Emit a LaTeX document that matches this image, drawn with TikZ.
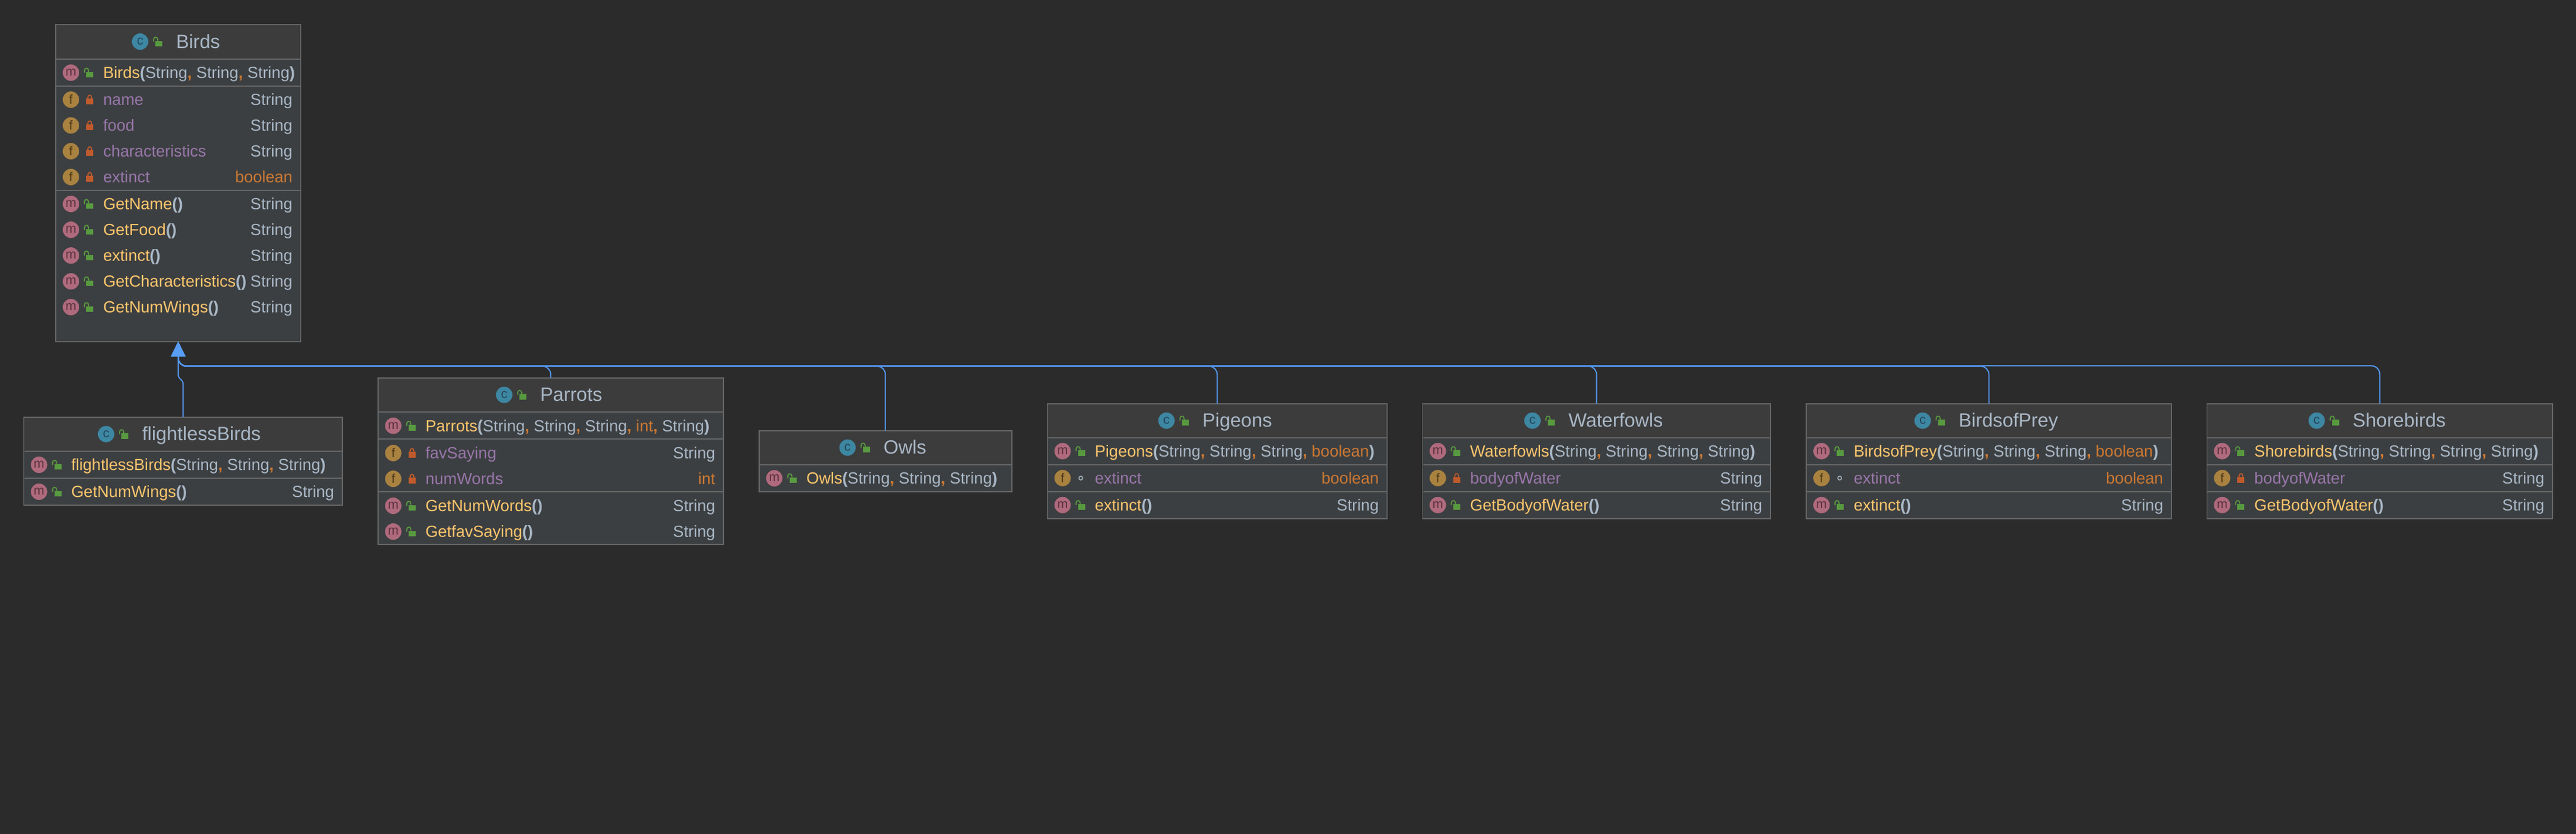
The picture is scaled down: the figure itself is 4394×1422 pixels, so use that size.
\documentclass[tikz,border=0pt]{standalone}
\usepackage{fontspec}
\setmainfont{Liberation Sans}
\usetikzlibrary{arrows.meta}
\definecolor{bgdark}{HTML}{2B2B2B}
\definecolor{hdrfill}{HTML}{3C3C3C}
\definecolor{bodyfill}{HTML}{3C3F41}
\definecolor{edgegrey}{HTML}{666666}
\definecolor{mname}{HTML}{FFC66D}
\definecolor{ptxt}{HTML}{A9B7C6}
\definecolor{kw}{HTML}{CC7832}
\definecolor{fld}{HTML}{9876AA}
\definecolor{icm}{HTML}{B06A7D}
\definecolor{icmd}{HTML}{5A3340}
\definecolor{icf}{HTML}{A98240}
\definecolor{icfd}{HTML}{4F3A1A}
\definecolor{icc}{HTML}{3D87A3}
\definecolor{iccd}{HTML}{24465A}
\definecolor{lockg}{HTML}{589A3F}
\definecolor{lockr}{HTML}{C05A2C}
\definecolor{ringc}{HTML}{9AA7B0}
\definecolor{linkb}{HTML}{5394EC}
\definecolor{tipb}{HTML}{589DF6}
\newcounter{nid}
\tikzset{
  autoname/.code={\stepcounter{nid}\tikzset{name=n\arabic{nid}}},
  every node/.style={autoname},
  umlframe/.style={draw=edgegrey,line width=1.7pt,fill=bodyfill,rectangle,inner sep=0pt,outer sep=0pt},
  divline/.style={draw=edgegrey,line width=1.7pt},
  rowtxt/.style={inner sep=0pt,outer sep=0pt,font=\fontsize{27.5}{30}\selectfont},
  rowleft/.style={rowtxt,anchor=base west},
  rowright/.style={rowtxt,anchor=base east},
  hdrtxt/.style={inner sep=0pt,outer sep=0pt,anchor=base west,text=ptxt,font=\fontsize{32.8}{36}\selectfont},
  badge/.style={circle,inner sep=0pt,outer sep=0pt,minimum size=28pt,font=\fontsize{22}{22}\selectfont},
  badgem/.style={badge,fill=icm,text=icmd},
  badgef/.style={badge,fill=icf,text=icfd},
  badgec/.style={badge,fill=icc,text=iccd},
  conn/.style={draw=linkb,line width=2pt,rounded corners=14pt,-{Triangle[length=25pt,width=24pt,color=tipb]}},
}
\newcommand\mn[1]{\textcolor{mname}{#1}}
\newcommand\fn[1]{\textcolor{fld}{#1}}
\newcommand\sgS{\textcolor{ptxt}{String}}
\newcommand\sgK[1]{\textcolor{kw}{#1}}
\newcommand\sgC{\textcolor{kw}{\textbf{,}}\ }
\newcommand\sgO{\textcolor{ptxt}{\textbf{(}}}
\newcommand\sgE{\textcolor{ptxt}{\textbf{)}}}
\newcommand\noargs{\sgO\sgE}
% visibility marks, placed relative to the icon's box-left x and the row centre
\newcommand\vispub[2]{\begin{scope}[shift={(#1,#2)}]
  \fill[lockg] (52,-1.3) rectangle (64,8);
  \draw[lockg,line width=1.8pt] (49,0) -- (49,-3.5) .. controls (49,-9) and (56,-9) .. (56,-3.5) -- (56,-1.3);
\end{scope}}
\newcommand\vispriv[2]{\begin{scope}[shift={(#1,#2)}]
  \fill[lockr] (52,-1.7) rectangle (64,8);
  \draw[lockr,line width=1.8pt] (54.8,-1.7) -- (54.8,-3.5) .. controls (54.8,-9) and (61.2,-9) .. (61.2,-3.5) -- (61.2,-1.7);
\end{scope}}
\newcommand\vispack[2]{\draw[ringc,line width=1.8pt] ({#1+57},#2) circle (3.2pt);}
% \rowitem{xl}{xr}{cy}{m|f}{pub|priv|pack}{left}{right}
\newcommand\rowitem[7]{
  \node[badge#4] at ({#1+26},#3) {#4};
  \csname vis#5\endcsname{#1}{#3}
  \node[rowleft] at ({#1+81},{#3+9.7}) {#6};
  \node[rowright] at ({#2-14},{#3+9.7}) {#7};
}
% \classbox{name}{xl}{xr}{yt}{yb}{yh}{dividers}{title}{c-icon x}
\newcommand\classbox[9]{
  \pgfmathsetmacro\bw{#3-#2}\pgfmathsetmacro\bh{#5-#4}
  \node[umlframe,minimum width=\bw pt,minimum height=\bh pt] (#1) at ({(#2+#3)/2},{(#4+#5)/2}) {};
  \fill[hdrfill] ({#2+1},{#4+1}) rectangle ({#3-1},#6);
  \foreach \yy in {#6,#7} {\draw[divline] ({#2+1},\yy) -- ({#3-1},\yy);}
  \node[badgec] at (#9,{#4+29}) {c};
  \vispub{#9-26}{#4+29}
  \node[hdrtxt] at ({#9+61.5},{#4+40}) {#8};
}
\begin{document}
\begin{tikzpicture}[x=1pt,y=-1pt]
\useasboundingbox (0,0) rectangle (4394,1422);
\fill[bgdark] (-10,-10) rectangle (4404,1432);

% ---- Birds
\classbox{birds}{95}{513}{42}{583}{100.7}{147,325}{Birds}{239}
\rowitem{95}{513}{124}{m}{pub}{\mn{Birds}\sgO\sgS\sgC\sgS\sgC\sgS\sgE}{}
\rowitem{95}{513}{170}{f}{priv}{\fn{name}}{\sgS}
\rowitem{95}{513}{214}{f}{priv}{\fn{food}}{\sgS}
\rowitem{95}{513}{258}{f}{priv}{\fn{characteristics}}{\sgS}
\rowitem{95}{513}{302}{f}{priv}{\fn{extinct}}{\sgK{boolean}}
\rowitem{95}{513}{348}{m}{pub}{\mn{GetName}\noargs}{\sgS}
\rowitem{95}{513}{392}{m}{pub}{\mn{GetFood}\noargs}{\sgS}
\rowitem{95}{513}{436}{m}{pub}{\mn{extinct}\noargs}{\sgS}
\rowitem{95}{513}{480}{m}{pub}{\mn{GetCharacteristics}\noargs}{\sgS}
\rowitem{95}{513}{524}{m}{pub}{\mn{GetNumWings}\noargs}{\sgS}

% ---- flightlessBirds
\classbox{flightless}{40.6}{584}{711.7}{862}{770}{816}{flightlessBirds}{181}
\rowitem{40.6}{584}{793}{m}{pub}{\mn{flightlessBirds}\sgO\sgS\sgC\sgS\sgC\sgS\sgE}{}
\rowitem{40.6}{584}{839}{m}{pub}{\mn{GetNumWings}\noargs}{\sgS}

% ---- Parrots
\classbox{parrots}{644.8}{1234}{644.7}{929}{703}{749,838.7}{Parrots}{860}
\rowitem{644.8}{1234}{726.5}{m}{pub}{\mn{Parrots}\sgO\sgS\sgC\sgS\sgC\sgS\sgC\sgK{int}\sgC\sgS\sgE}{}
\rowitem{644.8}{1234}{773}{f}{priv}{\fn{favSaying}}{\sgS}
\rowitem{644.8}{1234}{817}{f}{priv}{\fn{numWords}}{\sgK{int}}
\rowitem{644.8}{1234}{863}{m}{pub}{\mn{GetNumWords}\noargs}{\sgS}
\rowitem{644.8}{1234}{907}{m}{pub}{\mn{GetfavSaying}\noargs}{\sgS}

% ---- Owls
\classbox{owls}{1294.7}{1725.7}{734.7}{839.3}{792.7}{792.7}{Owls}{1445.7}
\rowitem{1294.7}{1725.7}{816}{m}{pub}{\mn{Owls}\sgO\sgS\sgC\sgS\sgC\sgS\sgE}{}

% ---- Pigeons
\classbox{pigeons}{1786.5}{2366}{688.7}{885}{746.7}{792.7,838.7}{Pigeons}{1989.7}
\rowitem{1786.5}{2366}{769.7}{m}{pub}{\mn{Pigeons}\sgO\sgS\sgC\sgS\sgC\sgS\sgC\sgK{boolean}\sgE}{}
\rowitem{1786.5}{2366}{815.7}{f}{pack}{\fn{extinct}}{\sgK{boolean}}
\rowitem{1786.5}{2366}{861.7}{m}{pub}{\mn{extinct}\noargs}{\sgS}

% ---- Waterfowls
\classbox{waterfowls}{2426.6}{3020}{688.7}{885}{746.7}{792.7,838.7}{Waterfowls}{2614}
\rowitem{2426.6}{3020}{769.7}{m}{pub}{\mn{Waterfowls}\sgO\sgS\sgC\sgS\sgC\sgS\sgC\sgS\sgE}{}
\rowitem{2426.6}{3020}{815.7}{f}{priv}{\fn{bodyofWater}}{\sgS}
\rowitem{2426.6}{3020}{861.7}{m}{pub}{\mn{GetBodyofWater}\noargs}{\sgS}

% ---- BirdsofPrey
\classbox{prey}{3081}{3704}{688.7}{885}{746.7}{792.7,838.7}{BirdsofPrey}{3279.5}
\rowitem{3081}{3704}{769.7}{m}{pub}{\mn{BirdsofPrey}\sgO\sgS\sgC\sgS\sgC\sgS\sgC\sgK{boolean}\sgE}{}
\rowitem{3081}{3704}{815.7}{f}{pack}{\fn{extinct}}{\sgK{boolean}}
\rowitem{3081}{3704}{861.7}{m}{pub}{\mn{extinct}\noargs}{\sgS}

% ---- Shorebirds
\classbox{shore}{3764.4}{4354}{688.7}{885}{746.7}{792.7,838.7}{Shorebirds}{3951.6}
\rowitem{3764.4}{4354}{769.7}{m}{pub}{\mn{Shorebirds}\sgO\sgS\sgC\sgS\sgC\sgS\sgC\sgS\sgE}{}
\rowitem{3764.4}{4354}{815.7}{f}{priv}{\fn{bodyofWater}}{\sgS}
\rowitem{3764.4}{4354}{861.7}{m}{pub}{\mn{GetBodyofWater}\noargs}{\sgS}

% ---- connectors
\coordinate (trunkA) at (304,624.2);
\coordinate (trunkB) at (304,624.9);
\coordinate (kinkA) at (312.3,651.7);
\coordinate (kinkB) at (304,642.7);
\draw[conn,rounded corners=2pt] (flightless.north) -- (kinkA) -- (kinkB) -- (birds.south);
\draw[conn] (shore.north) -- (shore.north |- trunkA) -- (trunkA) -- (birds.south);
\draw[conn] (prey.north) -- (prey.north |- trunkB) -- (trunkB) -- (birds.south);
\draw[conn] (waterfowls.north) -- (waterfowls.north |- trunkB) -- (trunkB) -- (birds.south);
\draw[conn] (pigeons.north) -- (pigeons.north |- trunkB) -- (trunkB) -- (birds.south);
\draw[conn] (owls.north) -- (owls.north |- trunkB) -- (trunkB) -- (birds.south);
\draw[conn] (parrots.north) -- (parrots.north |- trunkB) -- (trunkB) -- (birds.south);
\end{tikzpicture}
\end{document}
